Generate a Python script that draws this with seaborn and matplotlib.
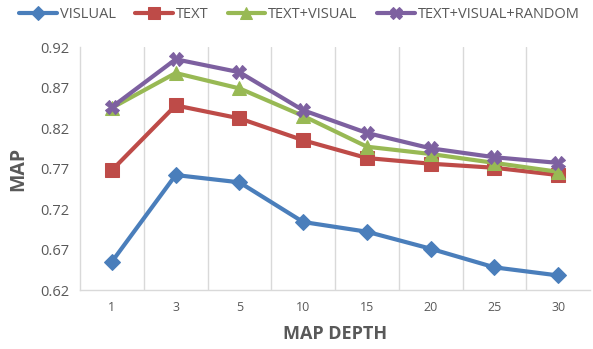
import pandas as pd
import seaborn as sns
import matplotlib.pyplot as plt
from matplotlib.ticker import FixedLocator

# chart values
depths = ["1", "3", "5", "10", "15", "20", "25", "30"]
visual = [0.655, 0.762, 0.753, 0.704, 0.692, 0.671, 0.648, 0.638]
text = [0.768, 0.848, 0.832, 0.805, 0.783, 0.776, 0.771, 0.762]
text_visual = [0.845, 0.888, 0.869, 0.835, 0.797, 0.788, 0.777, 0.766]
text_visual_random = [0.846, 0.905, 0.889, 0.842, 0.814, 0.795, 0.784, 0.777]
series_names = ["VISLUAL", "TEXT", "TEXT+VISUAL", "TEXT+VISUAL+RANDOM"]
y_ticks = [0.62, 0.67, 0.72, 0.77, 0.82, 0.87, 0.92]

# long-form table for seaborn
rows = []
for name, vals in zip(series_names, [visual, text, text_visual, text_visual_random]):
    for d, v in zip(depths, vals):
        rows.append({"depth": d, "map": v, "method": name})
df = pd.DataFrame(rows)

sns.set_style("white")
plt.rcParams["font.family"] = ["Open Sans", "DejaVu Sans"]

colors = ["#4A7EBB", "#BE4B48", "#98B954", "#7D60A0"]
markers = ["D", "s", "^", "X"]
sizes = [8, 10, 10, 10]

fig = plt.figure(figsize=(5.93, 3.49), dpi=100)
ax = fig.add_axes([0.135, 0.169, 0.86, 0.696])

for name, c, m, s in zip(series_names, colors, markers, sizes):
    sns.lineplot(data=df[df["method"] == name], x="depth", y="map", ax=ax,
                 color=c, marker=m, markersize=s, markeredgecolor=c,
                 linewidth=3, label=name, sort=False)

ax.set_xlim(-0.5, 7.5)
ax.set_ylim(0.62, 0.92)
ax.set_yticks(y_ticks)
ax.set_yticklabels([f"{t:.2f}" for t in y_ticks], fontsize=10.5, color="#595959")
ax.set_xticks(range(len(depths)))
ax.set_xticklabels(depths, fontsize=9, color="#595959")
ax.tick_params(axis="both", length=0, pad=8)

# vertical gridlines between categories
ax.xaxis.set_minor_locator(FixedLocator([i + 0.5 for i in range(len(depths) - 1)]))
ax.grid(True, axis="x", which="minor", color="#D9D9D9", linewidth=1)
ax.grid(False, axis="y")
ax.grid(False, axis="x", which="major")

for side in ["top", "right"]:
    ax.spines[side].set_visible(False)
for side in ["left", "bottom"]:
    ax.spines[side].set_color("#D9D9D9")
    ax.spines[side].set_linewidth(1)

ax.set_xlabel("MAP DEPTH", fontsize=13, fontweight="bold", color="#595959", labelpad=8)
ax.set_ylabel("MAP", fontsize=14, fontweight="bold", color="#595959", labelpad=8)

ax.legend(loc="center", bbox_to_anchor=(0.43, 1.135), ncol=4, frameon=False,
          fontsize=10.5, handlelength=2.6, handletextpad=0.2, columnspacing=1.3,
          labelcolor="#595959", borderaxespad=0, markerscale=0.9)

fig.savefig("out.png", dpi=100)
